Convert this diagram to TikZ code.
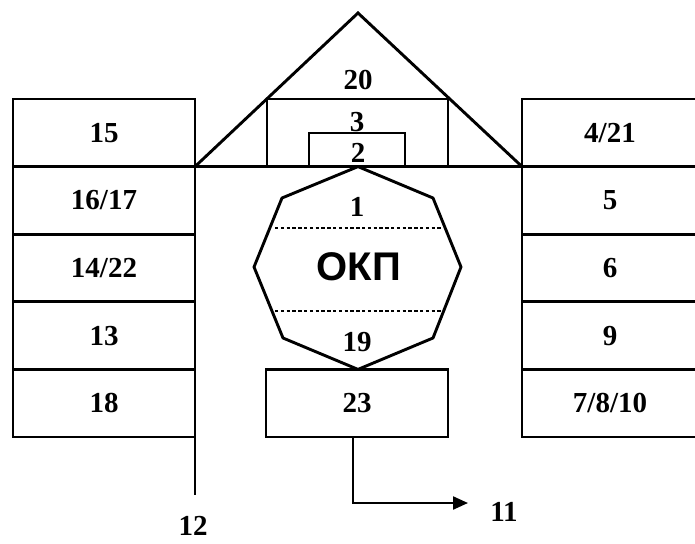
\documentclass[tikz,border=0pt]{standalone}
\usepackage{fontspec}
\setmainfont{Liberation Serif}
\newfontfamily\okpfont{Liberation Sans}
\usetikzlibrary{arrows.meta}
\begin{document}
\begin{tikzpicture}[x=1pt,y=-1pt,
  line width=2.9pt,
  numfont/.style={font=\fontsize{29}{30}\selectfont\bfseries},
  cell/.style={draw, rectangle, minimum width=182pt, minimum height=67.6pt, inner sep=0pt, outer sep=0pt, anchor=north west, numfont},
  rcell/.style={cell, minimum width=176pt},
  lbl/.style={inner sep=0pt, numfont},
  box/.style={draw, rectangle, inner sep=0pt, outer sep=0pt, anchor=north west, numfont},
  dots/.style={line width=2.2pt, dash pattern=on 3.4pt off 2.4pt},
  ]
\useasboundingbox (0,0) rectangle (695,543);
\clip (0,0) rectangle (695,543);
% left column
\node[cell] (c15)   at (13,99)    {15};
\node[cell] (c1617) at (13,166.6) {16/17};
\node[cell] (c1422) at (13,234.2) {14/22};
\node[cell] (c13)   at (13,301.8) {13};
\node[cell] (c18)   at (13,369.4) {18};
% right column
\node[rcell] (c421) at (522,99)    {4/21};
\node[rcell] (c5)   at (522,166.6) {5};
\node[rcell] (c6)   at (522,234.2) {6};
\node[rcell] (c9)   at (522,301.8) {9};
\node[rcell] (c7810) at (522,369.4) {7/8/10};
% vertical line below left column
\draw (c18.south east) -- ++(0,58) coordinate (e12);
\node[lbl] (l12) at (193,526) {12};
% roof
\coordinate (apex) at (358,13);
\draw[line join=miter] (c15.south east) -- (apex) -- (c421.south west);
\draw (c15.south east) -- (c421.south west);
\node[box, minimum width=181pt, minimum height=67.6pt] (b3) at (267,99) {};
\node[box, minimum width=96pt, minimum height=33.6pt, anchor=south west] (b2) at (309,166.6) {};
\node[lbl] (t20) at (358,80) {20};
\node[lbl] (t3) at (357,122) {3};
\node[lbl] (t2) at (358,153) {2};
% octagon
\coordinate (o1) at (358,166.6);
\coordinate (o2) at (282,198);
\coordinate (o3) at (254,267);
\coordinate (o4) at (283,338);
\coordinate (o5) at (358,369.4);
\coordinate (o6) at (433,338);
\coordinate (o7) at (461,267);
\coordinate (o8) at (433,198);
\draw[line join=round] (o1) -- (o2) -- (o3) -- (o4) -- (o5) -- (o6) -- (o7) -- (o8) -- cycle;
\draw[dots] (275,228) -- (443,228);
\draw[dots] (275,311) -- (443,311);
\node[lbl] (t1) at (357,207) {1};
\node[inner sep=0pt, font=\okpfont\fontsize{40}{41}\selectfont\bfseries] (okp) at (359,267) {ОКП};
\node[lbl] (t19) at (357,342) {19};
% box 23
\node[box, minimum width=182pt, minimum height=67.6pt] (b23) at (266,369.4) {23};
\coordinate (a11) at (468,503);
\draw[line width=2.2pt, -{Triangle[length=15pt,width=13pt]}] ([xshift=-4pt]b23.south) |- (a11);
\node[lbl] (l11) at (504,512) {11};
\end{tikzpicture}
\end{document}
